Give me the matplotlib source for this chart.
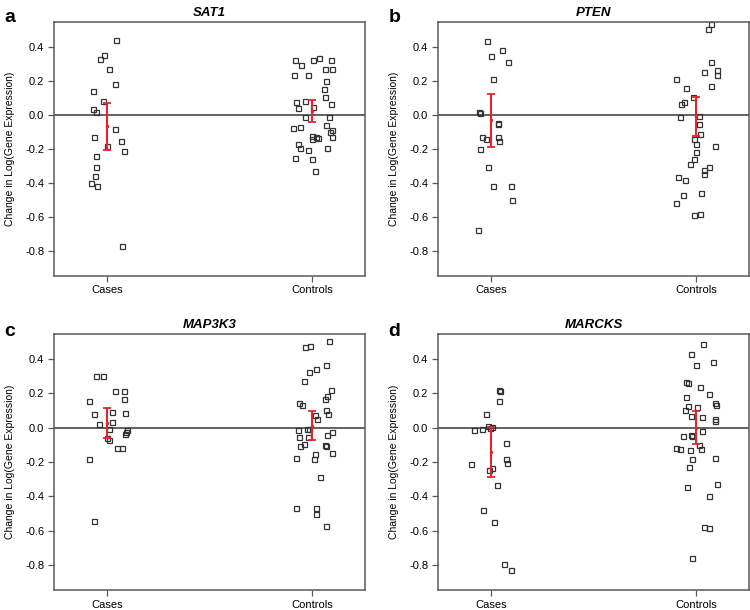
import matplotlib
matplotlib.use('Agg')
import matplotlib.pyplot as plt

groups = ['Cases', 'Controls']
genes = ['SAT1', 'PTEN', 'MAP3K3', 'MARCKS']
letters = ['a', 'b', 'c', 'd']

# jittered x positions and values
sat1_cases_x = [1.044, 0.987, 0.964, 1.008, 1.040, 0.934, 0.982, 0.934, 0.945, 1.037,
                0.939, 1.000, 1.070, 1.081, 0.948, 0.948, 0.940, 0.924, 0.953, 1.071]
sat1_cases_y = [0.441, 0.355, 0.330, 0.273, 0.183, 0.142, 0.084, 0.037, 0.018, -0.084,
                -0.129, -0.185, -0.150, -0.211, -0.240, -0.306, -0.357, -0.400, -0.416, -0.771]
sat1_ctrl_x = [1.914, 1.945, 2.003, 2.032, 2.089, 1.908, 1.976, 2.060, 2.094, 2.068,
               2.058, 2.060, 1.919, 1.964, 1.932, 2.003, 2.092, 1.964, 2.081, 1.905,
               1.940, 2.065, 2.094, 2.086, 1.997, 2.016, 2.029, 2.000, 2.094, 1.930,
               1.940, 1.980, 2.071, 1.917, 1.997, 2.013]
sat1_ctrl_y = [0.326, 0.295, 0.322, 0.338, 0.322, 0.236, 0.234, 0.269, 0.269, 0.201,
               0.150, 0.107, 0.076, 0.084, 0.041, 0.049, 0.062, -0.014, -0.014, -0.076,
               -0.068, -0.060, -0.088, -0.101, -0.121, -0.127, -0.133, -0.142, -0.127, -0.172,
               -0.197, -0.205, -0.195, -0.252, -0.259, -0.332]

pten_cases_x = [0.979, 1.000, 1.052, 1.083, 1.011, 0.941, 0.948, 1.036, 1.036, 0.958,
                0.976, 1.033, 1.037, 0.946, 0.985, 1.008, 1.098, 1.101, 0.935]
pten_cases_y = [0.433, 0.345, 0.380, 0.312, 0.211, 0.016, 0.012, -0.047, -0.051, -0.127,
                -0.142, -0.127, -0.152, -0.199, -0.306, -0.418, -0.416, -0.499, -0.677]
pten_ctrl_x = [2.072, 2.055, 2.073, 2.036, 2.101, 2.101, 1.901, 2.072, 1.948, 1.984,
               1.940, 1.926, 1.922, 2.011, 2.011, 2.016, 1.989, 1.997, 2.091, 2.000,
               1.987, 1.971, 2.060, 2.036, 2.036, 1.911, 1.943, 2.024, 1.933, 1.901,
               1.987, 2.018]
pten_ctrl_y = [0.534, 0.505, 0.309, 0.251, 0.265, 0.235, 0.212, 0.173, 0.159, 0.108,
               0.075, 0.066, -0.009, -0.003, -0.052, -0.110, -0.139, -0.173, -0.183, -0.218,
               -0.261, -0.290, -0.305, -0.321, -0.344, -0.364, -0.383, -0.458, -0.471, -0.516,
               -0.588, -0.581]

map3k3_cases_x = [0.948, 0.982, 0.913, 1.040, 1.083, 1.081, 0.935, 1.023, 1.086, 0.960,
                  1.024, 1.011, 1.099, 1.094, 1.086, 1.000, 1.011, 1.049, 1.071, 0.913, 0.935]
map3k3_cases_y = [0.300, 0.302, 0.154, 0.211, 0.211, 0.168, 0.078, 0.090, 0.086, 0.021,
                  0.035, -0.008, -0.014, -0.023, -0.039, -0.062, -0.074, -0.117, -0.121, -0.181, -0.544]
map3k3_ctrl_x = [2.079, 1.966, 1.989, 2.065, 2.015, 1.982, 1.961, 2.092, 2.069, 2.060,
                 1.935, 1.951, 2.066, 2.074, 2.011, 2.023, 1.929, 1.974, 1.983, 1.935,
                 1.977, 2.094, 2.073, 1.961, 1.937, 2.062, 2.066, 2.013, 2.096, 2.006,
                 1.922, 2.035, 1.919, 2.018, 2.015, 2.065]
map3k3_ctrl_y = [0.502, 0.469, 0.473, 0.366, 0.341, 0.321, 0.272, 0.218, 0.186, 0.167,
                 0.143, 0.130, 0.101, 0.081, 0.073, 0.052, -0.013, -0.009, -0.007, -0.054,
                 -0.054, -0.026, -0.042, -0.097, -0.110, -0.102, -0.108, -0.151, -0.149, -0.180,
                 -0.177, -0.288, -0.469, -0.471, -0.502, -0.571]

marcks_cases_x = [1.039, 1.044, 1.041, 0.976, 0.919, 0.958, 0.987, 1.003, 0.993, 1.072,
                  0.902, 1.075, 1.078, 1.003, 0.990, 1.027, 0.962, 1.016, 1.063, 1.098]
marcks_cases_y = [0.217, 0.211, 0.155, 0.078, -0.013, -0.006, 0.010, 0.006, 0.000, -0.088,
                  -0.211, -0.185, -0.205, -0.236, -0.248, -0.335, -0.480, -0.552, -0.792, -0.831]
marcks_ctrl_x = [2.033, 1.974, 2.081, 1.998, 1.948, 1.959, 2.016, 2.063, 1.948, 2.091,
                 2.094, 1.959, 2.003, 1.945, 1.974, 2.028, 2.091, 2.091, 2.028, 1.972,
                 1.979, 1.933, 1.901, 1.918, 1.971, 2.023, 2.013, 2.091, 1.979, 1.963,
                 1.955, 2.099, 2.060, 2.039, 2.062, 1.980]
marcks_ctrl_y = [0.487, 0.430, 0.383, 0.364, 0.268, 0.259, 0.235, 0.198, 0.180, 0.142,
                 0.132, 0.126, 0.122, 0.101, 0.067, 0.063, 0.048, 0.038, -0.019, -0.042,
                 -0.050, -0.050, -0.118, -0.122, -0.132, -0.126, -0.102, -0.175, -0.181, -0.231,
                 -0.348, -0.329, -0.397, -0.581, -0.587, -0.762]

# mean and interval (lower, upper) for cases / controls
means = [[-0.064, 0.023], [-0.029, -0.003], [0.026, 0.012], [-0.140, 0.000]]
lows = [[-0.203, -0.041], [-0.187, -0.124], [-0.062, -0.073], [-0.290, -0.097]]
highs = [[0.068, 0.088], [0.123, 0.108], [0.115, 0.098], [0.005, 0.098]]

points = [
    (sat1_cases_x, sat1_cases_y, sat1_ctrl_x, sat1_ctrl_y),
    (pten_cases_x, pten_cases_y, pten_ctrl_x, pten_ctrl_y),
    (map3k3_cases_x, map3k3_cases_y, map3k3_ctrl_x, map3k3_ctrl_y),
    (marcks_cases_x, marcks_cases_y, marcks_ctrl_x, marcks_ctrl_y),
]

plt.rcParams['font.family'] = ['Liberation Sans', 'DejaVu Sans']
fig = plt.figure(figsize=(7.5, 6.1), dpi=100)
positions = [[0.072, 0.548, 0.415, 0.416], [0.584, 0.548, 0.415, 0.416],
             [0.072, 0.033, 0.415, 0.420], [0.584, 0.033, 0.415, 0.420]]
letter_pos = [(0.006, 0.985), (0.518, 0.985), (0.006, 0.47), (0.518, 0.47)]
frame = '#5a5a5a'

for i, ax_pos in enumerate(positions):
    ax = fig.add_axes(ax_pos)
    cx, cy, tx, ty = points[i]
    ax.axhline(0, color='#555555', linewidth=1.3, zorder=1)
    ax.plot(cx, cy, linestyle='none', marker='s', markersize=3.6, markerfacecolor='none',
            markeredgecolor='#333333', markeredgewidth=0.9, zorder=2)
    ax.plot(tx, ty, linestyle='none', marker='s', markersize=3.6, markerfacecolor='none',
            markeredgecolor='#333333', markeredgewidth=0.9, zorder=2)
    m = means[i]
    err = [[m[0] - lows[i][0], m[1] - lows[i][1]], [highs[i][0] - m[0], highs[i][1] - m[1]]]
    ax.errorbar([1, 2], m, yerr=err, fmt='.', markersize=3, color='#e3262b',
                ecolor='#e3262b', elinewidth=1.5, capsize=3.2, capthick=1.3, zorder=3)

    ax.set_xlim(0.742, 2.257)
    ax.set_ylim(-0.945, 0.547)
    ax.set_xticks([1, 2])
    ax.set_xticklabels(groups, fontsize=8)
    ax.set_yticks([0.4, 0.2, 0.0, -0.2, -0.4, -0.6, -0.8])
    ax.set_yticklabels(['0.4', '0.2', '0.0', '-0.2', '-0.4', '-0.6', '-0.8'], fontsize=8)
    ax.tick_params(direction='out', length=4, width=0.9, color=frame, pad=3)
    for s in ax.spines.values():
        s.set_color(frame)
        s.set_linewidth(1.1)
    ax.set_ylabel('Change in Log(Gene Expression)', fontsize=7.5, labelpad=7)
    ax.set_title(genes[i], fontsize=9.5, fontweight='bold', fontstyle='italic', pad=4)
    fig.text(letter_pos[i][0], letter_pos[i][1], letters[i], fontsize=14,
             fontweight='bold', va='top', ha='left')

fig.savefig('out.png', dpi=100)
